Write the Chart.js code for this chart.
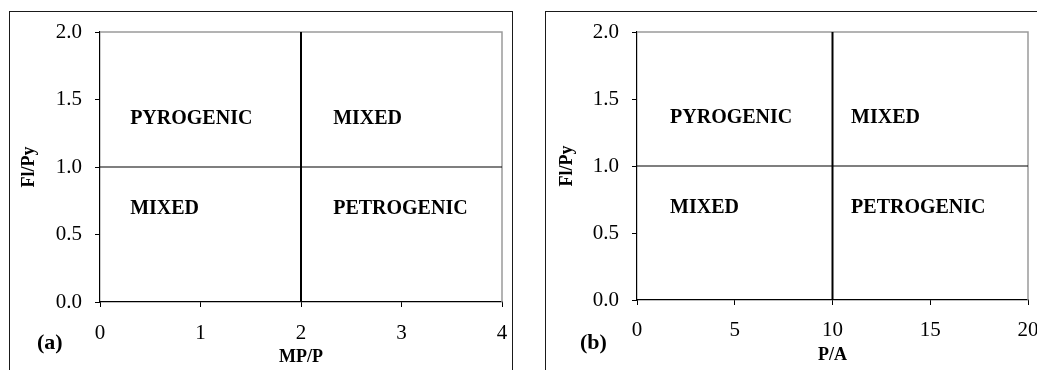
<!DOCTYPE html>
<html>
<head>
<meta charset="utf-8">
<script src="https://cdn.jsdelivr.net/npm/chart.js@4.4.1/dist/chart.umd.min.js"></script>
<style>
  html, body { margin: 0; padding: 0; background: #fff; overflow: hidden; }
  #page { position: relative; width: 1037px; height: 370px; }
  .frame { position: absolute; border: 1px solid #1a1a1a; box-sizing: border-box; }
  canvas { position: absolute; top: 0; }
</style>
</head>
<body>
<div id="page">
  <div class="frame" style="left:9px; top:11px; width:504px; height:380px;"></div>
  <div class="frame" style="left:545px; top:11px; width:520px; height:380px;"></div>
  <canvas id="chartA" width="512" height="370" style="left:0px;"></canvas>
  <canvas id="chartB" width="500" height="370" style="left:537px;"></canvas>
</div>
<script>
// Shared y-axis: Fl/Py ratio
const yRange = [0, 2];
const yStep = 0.5;
const yDivider = 1.0;

// Panel (a): MP/P
const xRangeA = [0, 4];
const xStepA = 1;
const xDividerA = 2;

// Panel (b): P/A
const xRangeB = [0, 20];
const xStepB = 5;
const xDividerB = 10;

// Source-region labels and their anchor points (data units, left edge of text)
const regionNames = ['PYROGENIC', 'MIXED', 'MIXED', 'PETROGENIC'];
const regionY = [1.36, 1.36, 0.69, 0.69];
const regionXA = [0.30, 2.32, 0.30, 2.32];
const regionXB = [1.69, 10.95, 1.69, 10.95];

const SERIF = '"Liberation Serif", "Times New Roman", serif';

// Draws the light frame on the top and right of the plot area
const plotFramePlugin = {
  id: 'plotFrame',
  beforeDatasetsDraw(chart) {
    const { ctx, chartArea: a } = chart;
    ctx.save();
    ctx.strokeStyle = '#9a9a9a';
    ctx.lineWidth = 1.5;
    ctx.beginPath();
    ctx.moveTo(a.left, a.top);
    ctx.lineTo(a.right, a.top);
    ctx.lineTo(a.right, a.bottom);
    ctx.stroke();
    ctx.restore();
  }
};

// Region names placed in data coordinates, plus the panel letter
const regionLabelPlugin = {
  id: 'regionLabels',
  afterDatasetsDraw(chart, args, opts) {
    const { ctx, scales } = chart;
    ctx.save();
    ctx.fillStyle = '#000';
    ctx.font = 'bold 20px ' + SERIF;
    ctx.textAlign = 'left';
    ctx.textBaseline = 'middle';
    opts.names.forEach((name, i) => {
      const px = scales.x.getPixelForValue(opts.xs[i]);
      const py = scales.y.getPixelForValue(opts.ys[i]);
      ctx.fillText(name, px, py);
    });
    ctx.font = 'bold 22px ' + SERIF;
    ctx.fillText(opts.letter, opts.letterX, opts.letterY);
    ctx.restore();
  }
};

function makeChart(canvasId, cfg) {
  const dividerData = [
    { x: cfg.xDivider, y: yRange[0] },
    { x: cfg.xDivider, y: yRange[1] }
  ];
  const horizData = [
    { x: cfg.xRange[0], y: yDivider },
    { x: cfg.xRange[1], y: yDivider }
  ];
  return new Chart(document.getElementById(canvasId), {
    type: 'scatter',
    data: {
      datasets: [
        {
          data: horizData, showLine: true, borderColor: '#000',
          borderWidth: 1.2, pointRadius: 0, fill: false
        },
        {
          data: dividerData, showLine: true, borderColor: '#000',
          borderWidth: 2, pointRadius: 0, fill: false
        }
      ]
    },
    options: {
      responsive: false,
      animation: false,
      devicePixelRatio: 1,
      layout: { padding: { left: 0, top: 32, right: cfg.rightPad, bottom: 0 } },
      plugins: {
        legend: { display: false },
        tooltip: { enabled: false },
        regionLabels: {
          names: regionNames, xs: cfg.regionX, ys: regionY,
          letter: cfg.letter, letterX: cfg.letterX, letterY: 343
        }
      },
      scales: {
        x: {
          type: 'linear',
          min: cfg.xRange[0], max: cfg.xRange[1],
          border: { display: true, color: '#000', width: 1.2 },
          grid: { drawOnChartArea: false, drawTicks: true, tickLength: 5, color: '#000' },
          ticks: {
            stepSize: cfg.xStep, color: '#000', padding: cfg.xTickPad,
            font: { family: SERIF, size: 21 }, maxRotation: 0,
            callback: v => String(v)
          },
          title: {
            display: true, text: cfg.xTitle, color: '#000',
            font: { family: SERIF, size: 18, weight: 'bold' },
            padding: { top: 0, bottom: cfg.xTitlePad }
          },
          afterFit(scale) {
            scale.height = cfg.xAxisHeight;
            scale.paddingLeft = 0;
            scale.paddingRight = 0;
          }
        },
        y: {
          type: 'linear',
          min: yRange[0], max: yRange[1],
          border: { display: true, color: '#000', width: 1.2 },
          grid: { drawOnChartArea: false, drawTicks: true, tickLength: 5, color: '#000' },
          ticks: {
            stepSize: yStep, color: '#000', padding: 13,
            font: { family: SERIF, size: 21 },
            callback: v => Number(v).toFixed(1)
          },
          title: {
            display: true, text: 'Fl/Py', color: '#000',
            font: { family: SERIF, size: 18, weight: 'bold' },
            padding: { top: cfg.yTitlePad, bottom: 0 }
          },
          afterFit(scale) {
            scale.width = 100;
          }
        }
      }
    },
    plugins: [plotFramePlugin, regionLabelPlugin]
  });
}

makeChart('chartA', {
  xRange: xRangeA, xStep: xStepA, xDivider: xDividerA, regionX: regionXA,
  xTitle: 'MP/P', letter: '(a)', letterX: 37,
  rightPad: 10, xAxisHeight: 68, xTickPad: 14, xTitlePad: 2, yTitlePad: 19
});

makeChart('chartB', {
  xRange: xRangeB, xStep: xStepB, xDivider: xDividerB, regionX: regionXB,
  xTitle: 'P/A', letter: '(b)', letterX: 43,
  rightPad: 9, xAxisHeight: 70, xTickPad: 13, xTitlePad: 4, yTitlePad: 20
});
</script>
</body>
</html>
